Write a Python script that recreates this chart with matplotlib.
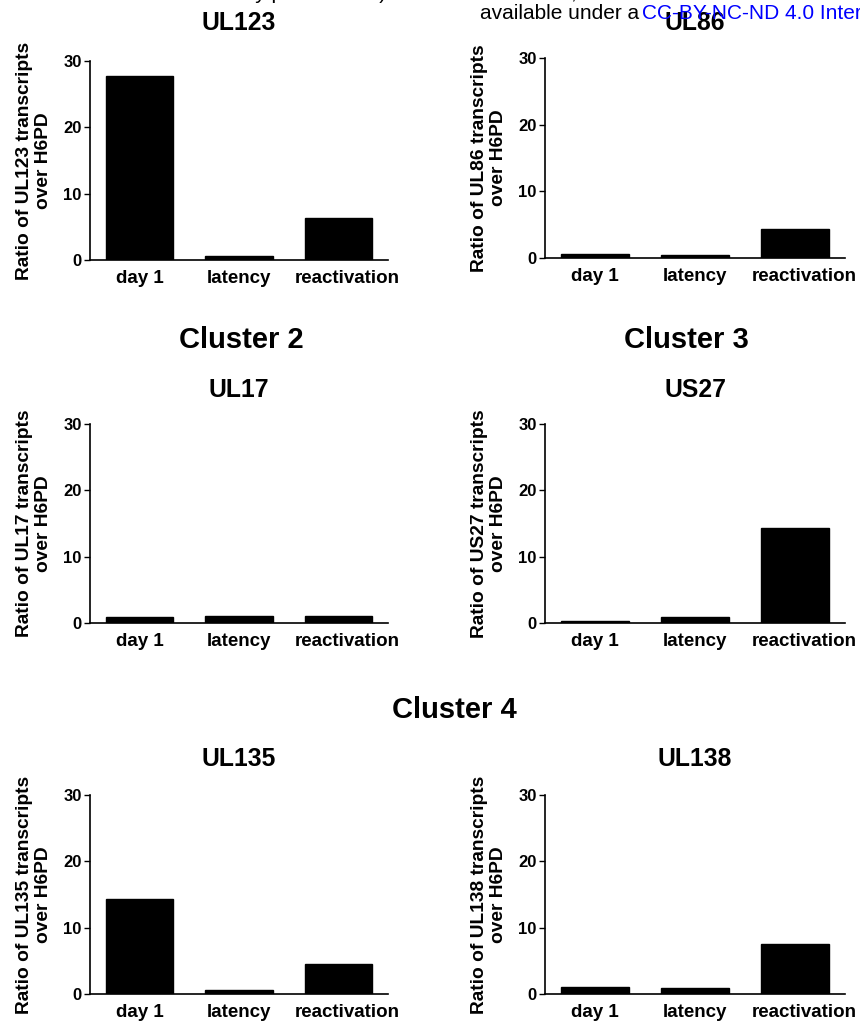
import matplotlib
matplotlib.use("Agg")
import matplotlib.pyplot as plt
from matplotlib.transforms import ScaledTranslation

plt.rcParams['font.family'] = ['Liberation Sans', 'DejaVu Sans']

# --- Data (ratio of transcripts over H6PD) ---
categories = ["day 1", "latency", "reactivation"]
genes = ["UL123", "UL86", "UL17", "US27", "UL135", "UL138"]
ul123 = [27.8, 0.65, 6.4]
ul86 = [0.65, 0.5, 4.35]
ul17 = [0.9, 1.05, 1.05]
us27 = [0.25, 0.85, 14.3]
ul135 = [14.3, 0.55, 4.55]
ul138 = [1.05, 0.9, 7.55]
values = [ul123, ul86, ul17, us27, ul135, ul138]
y_ticks = [0, 10, 20, 30]

# --- Panel boxes in pixels: left, top, right, bottom ---
W, H = 860, 1024
boxes = [
    (90, 61, 388, 260),
    (545, 58, 845, 258),
    (90, 424, 388, 623),
    (545, 424, 845, 623),
    (90, 795, 388, 994),
    (545, 795, 845, 994),
]
title_y = [23, 23, 390, 390, 759, 759]

fig = plt.figure(figsize=(W / 100, H / 100), dpi=100)

for gene, vals, (l, t, r, b), ty in zip(genes, values, boxes, title_y):
    ax = fig.add_axes([l / W, 1 - b / H, (r - l) / W, (b - t) / H])
    x = range(len(categories))
    ax.bar(x, vals, width=0.68, color="black", edgecolor="black", linewidth=1)
    ax.set_xlim(-0.5, 2.5)
    ax.set_ylim(0, 30)
    ax.set_yticks(y_ticks)
    ax.set_xticks(list(x))
    ax.set_xticklabels(categories, fontsize=13.5, fontweight="bold")
    ax.tick_params(axis="x", length=0, pad=7)
    ax.tick_params(axis="y", length=4, width=1, pad=2, labelsize=12)
    for lab in ax.get_yticklabels():
        lab.set_fontweight("bold")
    # the last category label sits a little right of its bar in the original
    last = ax.get_xticklabels()[-1]
    last.set_transform(last.get_transform() + ScaledTranslation(9 / 100, 0, fig.dpi_scale_trans))
    for side in ["top", "right"]:
        ax.spines[side].set_visible(False)
    for side in ["left", "bottom"]:
        ax.spines[side].set_linewidth(1.2)
    ax.set_ylabel(f"Ratio of {gene} transcripts\nover H6PD", fontsize=13.8,
                  fontweight="bold", linespacing=1.15)
    ax.yaxis.set_label_coords(-0.128, 0.5)
    fig.text((l + r) / 2 / W, 1 - ty / H, gene, fontsize=17.8,
             fontweight="bold", ha="center", va="center")

# --- Cluster headings ---
fig.text(241 / W, 1 - 340 / H, "Cluster 2", fontsize=21, fontweight="bold", ha="center", va="center")
fig.text(686 / W, 1 - 340 / H, "Cluster 3", fontsize=21, fontweight="bold", ha="center", va="center")
fig.text(454 / W, 1 - 710 / H, "Cluster 4", fontsize=21, fontweight="bold", ha="center", va="center")

# --- Preprint header remnants ---
fig.text(165 / W, 1 + 1 / H, "certified by peer review) is the author/funder,", fontsize=15,
         ha="left", va="baseline")
fig.text(480 / W, 1 - 19 / H, "available under a", fontsize=15, ha="left", va="baseline")
fig.text(642 / W, 1 - 19 / H, "CC-BY-NC-ND 4.0 International license", fontsize=15,
         color="#0000ff", ha="left", va="baseline")

fig.savefig("out.png", dpi=100)
